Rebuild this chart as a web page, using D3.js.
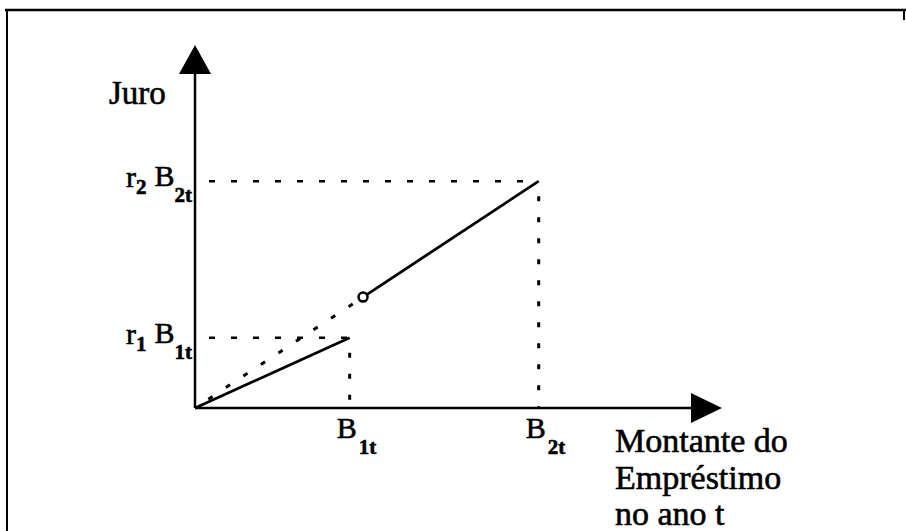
<!DOCTYPE html>
<html>
<head>
<meta charset="utf-8">
<script src="https://cdn.jsdelivr.net/npm/d3@7"></script>
<style>
    body { margin: 0; background: #fff; }
    text { font-family: "Liberation Serif", "Times New Roman", serif; fill: #000; stroke: #000; stroke-width: 0.6px; }
</style>
</head>
<body>
<script>
// values (arbitrary units)
const B1 = 4.05, B2 = 9;
const r1B1 = 3.1, r2B2 = 10;
const jumpB = 4.4;           // where the second tariff segment starts (open dot)
const xMax = 13.8, yMax = 16;

const seg1 = [[0, 0], [B1, r1B1]];
const seg2 = [[jumpB, r2B2 * jumpB / B2], [B2, r2B2]];
const dottedSeg = [[0, 0], [jumpB, r2B2 * jumpB / B2]];

const xTicks = [
    { value: B1, main: "B", sub: "1t" },
    { value: B2, main: "B", sub: "2t" }
];
const yTicks = [
    { value: r1B1, r: "1", sub: "1t", xv: B1 },
    { value: r2B2, r: "2", sub: "2t", xv: B2 }
];
const yTitle = "Juro";
const xTitle = ["Montante do", "Empréstimo", "no ano t"];

const w = 906, h = 531;

const svg = d3.select('body').append('svg')
    .attr('width', w)
    .attr('height', h);

// frame (scanned box, only top / left edges visible)
svg.append("line").attr("x1", 5).attr("x2", w).attr("y1", 10).attr("y2", 10)
    .attr("stroke", "#000").attr("stroke-width", 2.5);
svg.append("line").attr("x1", 7).attr("x2", 7).attr("y1", 9).attr("y2", h)
    .attr("stroke", "#000").attr("stroke-width", 2);
svg.append("line").attr("x1", 904).attr("x2", 904).attr("y1", 9).attr("y2", 20)
    .attr("stroke", "#000").attr("stroke-width", 2);

const x = d3.scaleLinear()
    .domain([0, xMax])
    .range([195, 722]);

const y = d3.scaleLinear()
    .domain([0, yMax])
    .range([408, 45]);

const line = d3.line()
    .x(function (d) { return x(d[0]); })
    .y(function (d) { return y(d[1]); });

// axes
svg.append("line")
    .attr("x1", x(0)).attr("x2", x(xMax) - 20)
    .attr("y1", y(0)).attr("y2", y(0))
    .attr("stroke", "#000").attr("stroke-width", 2.5);
svg.append("line")
    .attr("x1", x(0)).attr("x2", x(0))
    .attr("y1", y(0)).attr("y2", y(yMax) + 20)
    .attr("stroke", "#000").attr("stroke-width", 2.5);

// arrow heads
svg.append("path")
    .attr("d", `M${x(xMax)},${y(0)} L${x(xMax) - 31},${y(0) - 15} L${x(xMax) - 31},${y(0) + 15} Z`)
    .attr("fill", "#000");
svg.append("path")
    .attr("d", `M${x(0)},${y(yMax)} L${x(0) - 16},${y(yMax) + 29} L${x(0) + 16},${y(yMax) + 29} Z`)
    .attr("fill", "#000");

// guide lines
yTicks.forEach(function (t) {
    svg.append("line")
        .attr("x1", x(0)).attr("x2", x(t.xv))
        .attr("y1", y(t.value)).attr("y2", y(t.value))
        .attr("stroke", "#000").attr("stroke-width", 2.5)
        .attr("stroke-dasharray", "6,16")
        .attr("stroke-dashoffset", -14);
    svg.append("line")
        .attr("x1", x(t.xv)).attr("x2", x(t.xv))
        .attr("y1", y(t.value)).attr("y2", y(0))
        .attr("stroke", "#000").attr("stroke-width", 3)
        .attr("stroke-dasharray", "5,16")
        .attr("stroke-dashoffset", -15);
});

// dotted part
svg.append("path")
    .datum(dottedSeg)
    .attr("d", line)
    .attr("fill", "none")
    .attr("stroke", "#000")
    .attr("stroke-width", 3)
    .attr("stroke-dasharray", "5,16")
    .attr("stroke-dashoffset", -16);

// solid segments
[seg1, seg2].forEach(function (s) {
    svg.append("path")
        .datum(s)
        .attr("d", line)
        .attr("fill", "none")
        .attr("stroke", "#000")
        .attr("stroke-width", 2.8);
});

svg.append("circle")
    .attr("cx", x(seg2[0][0]))
    .attr("cy", y(seg2[0][1]))
    .attr("r", 4.5)
    .attr("fill", "#fff")
    .attr("stroke", "#000")
    .attr("stroke-width", 2.5);

// x tick labels
xTicks.forEach(function (t) {
    const tx = svg.append("text")
        .attr("x", x(t.value) - 13)
        .attr("y", y(0) + 30)
        .style("font-size", "30px");
    tx.append("tspan").text(t.main);
    tx.append("tspan").attr("dx", 2).attr("dy", 16)
        .style("font-size", "21px").style("font-weight", "bold").text(t.sub);
});

// y tick labels
yTicks.forEach(function (t) {
    const ty = svg.append("text")
        .attr("x", 126)
        .attr("y", y(t.value) + 6)
        .style("font-size", "30px");
    ty.append("tspan").text("r");
    ty.append("tspan").attr("dy", 7).attr("dx", 0)
        .style("font-size", "21px").style("font-weight", "bold").text(t.r);
    ty.append("tspan").attr("dx", 8).attr("dy", -8).text("B");
    ty.append("tspan").attr("dy", 16)
        .style("font-size", "21px").style("font-weight", "bold").text(t.sub);
});

// axis titles
svg.append("text")
    .attr("x", 109).attr("y", 104)
    .style("font-size", "33px")
    .text(yTitle);

svg.append("g").selectAll("text")
    .data(xTitle)
    .join("text")
    .attr("x", 615)
    .attr("y", function (d, i) { return 452 + i * 36.5; })
    .style("font-size", "34px")
    .text(function (d) { return d; });
</script>
</body>
</html>
